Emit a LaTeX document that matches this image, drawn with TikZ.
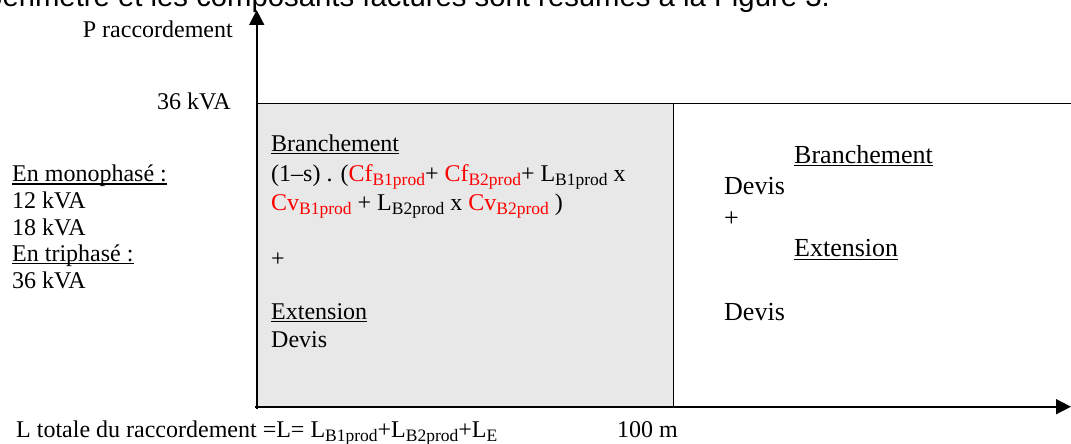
\documentclass[tikz,border=0pt]{standalone}
\usepackage{fontspec}
\setmainfont{Liberation Serif}
\newfontfamily\arialf{Liberation Sans}
\usetikzlibrary{arrows.meta}
\definecolor{boxgray}{HTML}{E8E8E8}
\definecolor{txtred}{HTML}{FF0000}
\newcommand\fa{\fontsize{24}{28}\selectfont}
\newcommand\fb{\fontsize{26}{30}\selectfont}
\newcommand\lowx[1]{\raisebox{-4pt}{\fontsize{17.5}{18}\selectfont #1}}
\newcommand\myul[1]{\leavevmode\setbox0\hbox{#1}\rlap{\rule[-3pt]{\wd0}{1.1pt}}\box0}
\newcommand\rd[1]{\textcolor{txtred}{#1}}
\begin{document}
\begin{tikzpicture}[x=1pt,y=-1pt,
  lbl/.style={inner sep=0pt, anchor=base west, font=\fa},
  lblr/.style={inner sep=0pt, anchor=base east, font=\fa},
  big/.style={inner sep=0pt, anchor=base west, font=\fb},
  axis/.style={line width=1.6pt, -{Triangle[length=15pt,width=15pt]}},
  frame/.style={line width=1.3pt}]
\useasboundingbox (0,0) rectangle (1071,444);
% clipped text of the surrounding page
\begin{scope}
\clip (0,0) rectangle (1071,444);
\node[inner sep=0pt, anchor=base east, font=\arialf\fontsize{29.3}{30}\selectfont] (top) at (830,7) {périmètre et les composants facturés sont résumés à la Figure 3.};
\end{scope}
% geometry
\coordinate (O) at (256.7,406.7);
\coordinate (Ob) at (256.7,408.5);
\coordinate (Ol) at (255,406.7);
\coordinate (ytip) at (256.7,10);
\coordinate (xtip) at (1071,406.7);
\coordinate (TL) at (256.7,103.3);
\coordinate (TR) at (1071,103.3);
\coordinate (M) at (673.7,103.3);
\coordinate (Mb) at (673.7,406.7);
\fill[boxgray] (TL) rectangle (Mb);
\draw[frame] (TL) -- (TR);
\draw[frame] (M) -- (Mb);
\draw[axis] (Ob) -- (ytip);
\draw[axis] (Ol) -- (xtip);
% axis labels
\node[lblr] (pr) at (233,38) {P raccordement};
\node[lblr] (k36) at (231,109) {36 kVA};
% left list
\node[lbl] (mono) at (12,181.5) {\myul{En monophasé :}};
\node[lbl] (k12) at (12,208) {12 kVA};
\node[lbl] (k18) at (12,235) {18 kVA};
\node[lbl] (tri) at (12,261) {\myul{En triphasé :}};
\node[lbl] (k36b) at (12,288) {36 kVA};
% gray box content
\node[lbl] (b1) at (271,151) {\myul{Branchement}};
\node[lbl] (f1) at (271,181) {(1–s) . (\rd{Cf\lowx{B1prod}}+ \rd{Cf\lowx{B2prod}}+ L\lowx{B1prod} x};
\node[lbl] (f2) at (271,210) {\rd{Cv\lowx{B1prod}} + L\lowx{B2prod} x \rd{Cv\lowx{B2prod}} )};
\node[lbl] (p1) at (271,266) {+};
\node[lbl] (e1) at (271,319.3) {\myul{Extension}};
\node[lbl] (d1) at (271,347) {Devis};
% right content
\node[big] (b2) at (794,163.3) {\myul{Branchement}};
\node[big] (d2) at (724,194) {Devis};
\node[big] (p2) at (724,226.5) {+};
\node[big] (e2) at (794,256.7) {\myul{Extension}};
\node[big] (d3) at (724,320) {Devis};
% bottom
\node[lbl] (lt) at (16,437.3) {L totale du raccordement =L= L\lowx{B1prod}+L\lowx{B2prod}+L\lowx{E}};
\node[lbl] (cent) at (617,437.3) {100 m};
\end{tikzpicture}
\end{document}
